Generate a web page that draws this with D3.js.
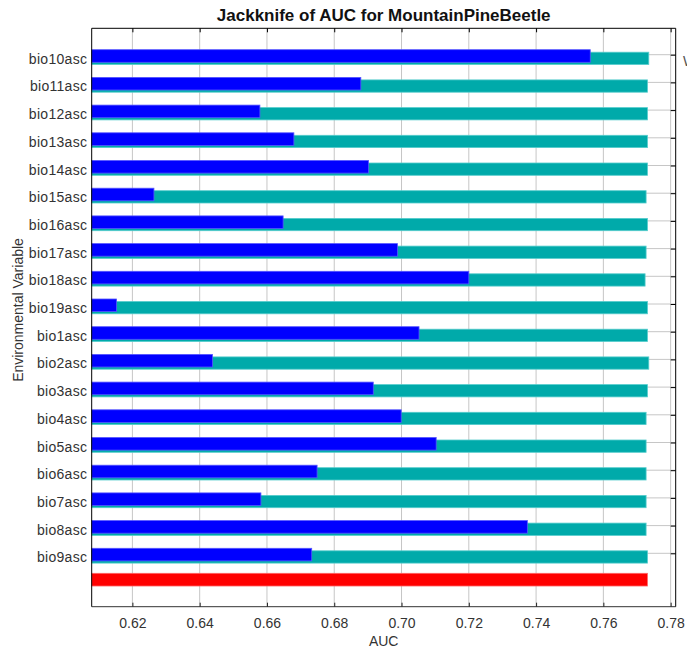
<!DOCTYPE html>
<html>
<head>
<meta charset="utf-8">
<script src="https://cdn.jsdelivr.net/npm/d3@7"></script>
<style>
  html, body { margin: 0; padding: 0; background: #ffffff; }
  svg { display: block; }
  text { font-family: "Liberation Sans", Arial, sans-serif; }
</style>
</head>
<body>
<div id="chart"></div>
<script>
// ---- Data ----
const categories = ["bio10asc","bio11asc","bio12asc","bio13asc","bio14asc","bio15asc","bio16asc","bio17asc","bio18asc","bio19asc",
                    "bio1asc","bio2asc","bio3asc","bio4asc","bio5asc","bio6asc","bio7asc","bio8asc","bio9asc"];
const withoutVariable = [0.7735,0.7731,0.7731,0.7731,0.7731,0.7727,0.7731,0.7727,0.7724,0.7731,
                         0.7731,0.7735,0.7731,0.7727,0.7727,0.7727,0.7727,0.7727,0.7731];
const withOnlyVariable = [0.7561,0.6879,0.6579,0.6680,0.6902,0.6264,0.6648,0.6988,0.7200,0.6153,
                          0.7052,0.6438,0.6916,0.6999,0.7103,0.6749,0.6582,0.7374,0.6733];
const withAllVariables = [0.7731];
const xTicks = [0.62,0.64,0.66,0.68,0.70,0.72,0.74,0.76,0.78];
const xDomain = [0.6079, 0.7815];

// ---- Layout ----
const W = 687, H = 653;
const plot = { left: 91.7, right: 675.7, top: 28.3, bottom: 606.7 };

const svg = d3.select("#chart").append("svg").attr("width", W).attr("height", H);
svg.append("rect").attr("width", W).attr("height", H).attr("fill", "#ffffff");

const x = d3.scaleLinear().domain(xDomain).range([plot.left, plot.right]);
const y = d3.scalePoint().domain(categories).range([54.7, 553.3]);
const step = y.step();
const yAll = y(categories[categories.length - 1]) + step * 0.82;

// gridlines
const grid = svg.append("g");
grid.selectAll("line.v").data(xTicks).join("line")
  .attr("x1", d => x(d)).attr("x2", d => x(d))
  .attr("y1", plot.top).attr("y2", plot.bottom)
  .attr("stroke", "#c6c6c6").attr("stroke-width", 1);
grid.selectAll("line.h").data(categories).join("line")
  .attr("x1", plot.left).attr("x2", plot.right)
  .attr("y1", d => y(d)).attr("y2", d => y(d))
  .attr("stroke", "#c6c6c6").attr("stroke-width", 1);

// bars
const x0 = x(xDomain[0]);
const bars = svg.append("g");
bars.selectAll("rect.without").data(categories).join("rect")
  .attr("x", x0)
  .attr("y", d => y(d) - 2.5)
  .attr("width", (d, i) => x(withoutVariable[i]) - x0)
  .attr("height", 12.3)
  .attr("fill", "#00aaaa")
  .attr("stroke", "#55cccc").attr("stroke-width", 0.8);
bars.selectAll("rect.only").data(categories).join("rect")
  .attr("x", x0)
  .attr("y", d => y(d) - 5)
  .attr("width", (d, i) => x(withOnlyVariable[i]) - x0)
  .attr("height", 12.6)
  .attr("fill", "#0000ff")
  .attr("stroke", "#5555ff").attr("stroke-width", 0.8);
bars.selectAll("rect.all").data(withAllVariables).join("rect")
  .attr("x", x0)
  .attr("y", yAll - 2.7)
  .attr("width", d => x(d) - x0)
  .attr("height", 12.7)
  .attr("fill", "#ff0000")
  .attr("stroke", "#ff6666").attr("stroke-width", 0.8);

// axes
const bottomAxis = svg.append("g").attr("transform", `translate(0,${plot.bottom})`)
  .call(d3.axisBottom(x).tickValues(xTicks).tickFormat(d3.format(".2f")).tickSize(-4).tickPadding(11.6));
bottomAxis.select(".domain").attr("stroke", "#333").attr("d", `M${plot.left},0H${plot.right}`);
bottomAxis.selectAll(".tick line").attr("stroke", "#222");
bottomAxis.selectAll("text").attr("font-size", "14px").attr("fill", "#333")
  .attr("font-family", "'Liberation Sans', Arial, sans-serif");

const topAxis = svg.append("g").attr("transform", `translate(0,${plot.top})`)
  .call(d3.axisTop(x).tickValues(xTicks).tickFormat("").tickSize(-4));
topAxis.select(".domain").attr("stroke", "#000").attr("d", `M${plot.left},0H${plot.right}`);
topAxis.selectAll(".tick line").attr("stroke", "#000");

const rightAxis = svg.append("g").attr("transform", `translate(${plot.right},0)`)
  .call(d3.axisRight(y).tickFormat("").tickSize(-5));
rightAxis.select(".domain").attr("stroke", "#000").attr("d", `M0,${plot.top}V${plot.bottom}`);
rightAxis.selectAll(".tick line").attr("stroke", "#000");

const leftAxis = svg.append("g").attr("transform", `translate(${plot.left},0)`)
  .call(d3.axisLeft(y).tickSize(0).tickPadding(4.4));
leftAxis.select(".domain").attr("stroke", "#000").attr("d", `M0,${plot.top}V${plot.bottom}`);
leftAxis.selectAll("text").attr("font-size", "14px").attr("fill", "#333")
  .attr("letter-spacing", "0.3px").attr("dy", "0.61em")
  .attr("font-family", "'Liberation Sans', Arial, sans-serif");

// titles
svg.append("text")
  .attr("x", (plot.left + plot.right) / 2).attr("y", 21)
  .attr("text-anchor", "middle").attr("font-size", "17px").attr("font-weight", "bold")
  .attr("fill", "#111").text("Jackknife of AUC for MountainPineBeetle");

svg.append("text")
  .attr("x", (plot.left + plot.right) / 2).attr("y", 646)
  .attr("text-anchor", "middle").attr("font-size", "14px").attr("fill", "#333")
  .text("AUC");

svg.append("text")
  .attr("transform", `translate(23,310) rotate(-90)`)
  .attr("text-anchor", "middle").attr("font-size", "14px").attr("fill", "#333")
  .text("Environmental Variable");

// clipped legend text at right edge
svg.append("text")
  .attr("x", 683).attr("y", 66)
  .attr("font-size", "14px").attr("fill", "#555")
  .text("Without variable");
</script>
</body>
</html>
